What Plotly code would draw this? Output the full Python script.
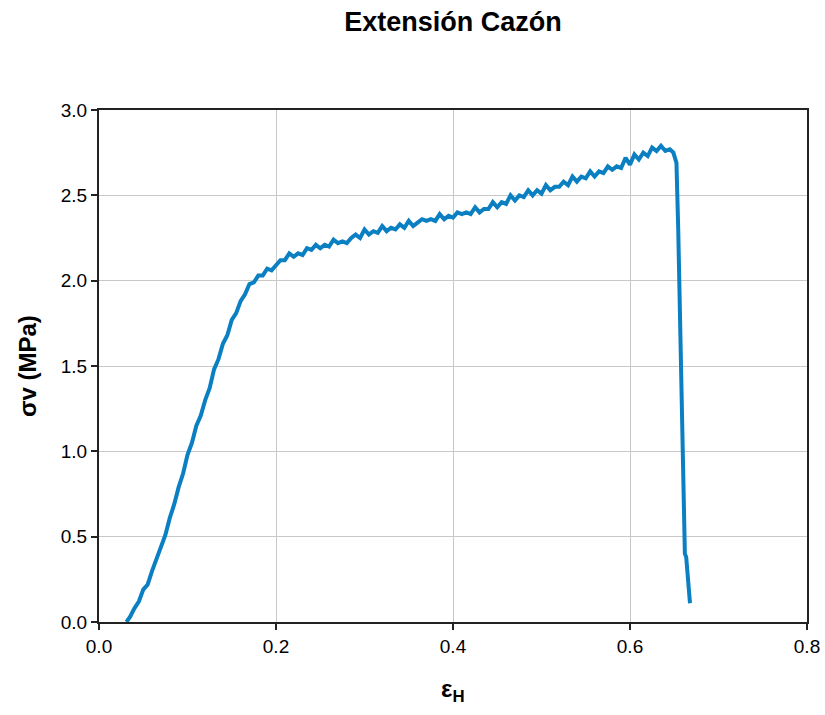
import plotly.graph_objects as go

# Rising (elastic) portion
x_rise = [0.031, 0.035, 0.040, 0.045, 0.050, 0.055, 0.060, 0.065, 0.070, 0.075,
          0.080, 0.085, 0.090, 0.095, 0.100, 0.105, 0.110, 0.115, 0.120, 0.125,
          0.130, 0.135, 0.140, 0.145, 0.150, 0.155, 0.160, 0.165, 0.170, 0.175,
          0.180, 0.185, 0.190, 0.195]
y_rise = [0.00, 0.03, 0.08, 0.12, 0.19, 0.22, 0.30, 0.37, 0.45, 0.51,
          0.61, 0.69, 0.79, 0.87, 0.98, 1.05, 1.15, 1.21, 1.30, 1.37,
          1.48, 1.54, 1.63, 1.68, 1.77, 1.81, 1.88, 1.92, 1.98, 1.99,
          2.03, 2.03, 2.07, 2.06]

# Plateau (noisy hardening) portion
x_plat = [0.200, 0.205, 0.210, 0.215, 0.220, 0.225, 0.230, 0.235, 0.240, 0.245,
          0.250, 0.255, 0.260, 0.265, 0.270, 0.275, 0.280, 0.285, 0.290, 0.295,
          0.300, 0.305, 0.310, 0.315, 0.320, 0.325, 0.330, 0.335, 0.340, 0.345,
          0.350, 0.355, 0.360, 0.365, 0.370, 0.375, 0.380, 0.385, 0.390, 0.395,
          0.400, 0.405, 0.410, 0.415, 0.420, 0.425, 0.430, 0.435, 0.440, 0.445,
          0.450, 0.455, 0.460, 0.465, 0.470, 0.475, 0.480, 0.485, 0.490, 0.495,
          0.500, 0.505, 0.510, 0.515, 0.520, 0.525, 0.530, 0.535, 0.540, 0.545,
          0.550, 0.555, 0.560, 0.565, 0.570, 0.575, 0.580, 0.585, 0.590, 0.595,
          0.600, 0.605, 0.610, 0.615, 0.620, 0.625, 0.630, 0.635, 0.640, 0.645]
y_plat = [2.09, 2.12, 2.12, 2.16, 2.14, 2.16, 2.15, 2.19, 2.18, 2.21,
          2.19, 2.21, 2.20, 2.24, 2.22, 2.23, 2.22, 2.25, 2.27, 2.25,
          2.30, 2.27, 2.29, 2.28, 2.32, 2.29, 2.31, 2.30, 2.33, 2.31,
          2.35, 2.32, 2.34, 2.36, 2.35, 2.36, 2.35, 2.39, 2.36, 2.38,
          2.37, 2.40, 2.39, 2.40, 2.39, 2.43, 2.40, 2.42, 2.42, 2.46,
          2.43, 2.46, 2.45, 2.50, 2.47, 2.50, 2.49, 2.53, 2.50, 2.53,
          2.51, 2.56, 2.53, 2.55, 2.55, 2.58, 2.56, 2.61, 2.58, 2.61,
          2.60, 2.64, 2.61, 2.64, 2.63, 2.67, 2.65, 2.67, 2.66, 2.72,
          2.68, 2.74, 2.71, 2.75, 2.73, 2.78, 2.76, 2.79, 2.76, 2.77]

# Failure (drop) portion
x_drop = [0.649, 0.6525, 0.6545, 0.6577, 0.660, 0.662, 0.6635, 0.6678]
y_drop = [2.75, 2.69, 2.30, 1.52, 0.93, 0.40, 0.38, 0.11]

x_all = x_rise + x_plat + x_drop
y_all = y_rise + y_plat + y_drop

x_ticks = [0.0, 0.2, 0.4, 0.6, 0.8]
y_ticks = [0.0, 0.5, 1.0, 1.5, 2.0, 2.5, 3.0]

FONT = "Arial, Liberation Sans, sans-serif"

fig = go.Figure()
fig.add_trace(go.Scatter(x=x_all, y=y_all, mode="lines",
                         line=dict(color="#0A7FC2", width=4),
                         showlegend=False, hoverinfo="skip"))

fig.update_layout(
    width=825, height=715,
    margin=dict(l=99, r=18, t=110, b=93),
    paper_bgcolor="white", plot_bgcolor="white",
    font=dict(family=FONT, color="black", size=19),
    title=dict(text="<b>Extensión Cazón</b>", x=0.5, xref="paper",
               y=1 - 22 / 715, yref="container", yanchor="middle",
               font=dict(family=FONT, size=27, color="black")),
    xaxis=dict(range=[0, 0.8], tickvals=x_ticks,
               ticktext=[f"{v:.1f}" for v in x_ticks],
               showgrid=True, gridcolor="#C8C8C8", gridwidth=1,
               showline=True, linecolor="#222222", linewidth=2, mirror=True,
               ticks="outside", ticklen=6, tickcolor="#222222", tickwidth=1.5,
               zeroline=False, tickfont=dict(size=19), automargin=False),
    yaxis=dict(range=[0, 3.0], tickvals=y_ticks,
               ticktext=[f"{v:.1f}" for v in y_ticks],
               showgrid=True, gridcolor="#C8C8C8", gridwidth=1,
               showline=True, linecolor="#222222", linewidth=2, mirror=True,
               ticks="outside", ticklen=6, tickcolor="#222222", tickwidth=1.5,
               zeroline=False, tickfont=dict(size=19), automargin=False),
    annotations=[
        dict(text="<b>σv (MPa)</b>", xref="paper", yref="paper",
             x=(27 - 99) / 708, y=0.5, textangle=-90, showarrow=False,
             xanchor="center", yanchor="middle",
             font=dict(family=FONT, size=24, color="black")),
        dict(text="<b>ε<sub>H</sub></b>", xref="paper", yref="paper",
             x=0.5, y=(622 - 690) / 512, showarrow=False,
             xanchor="center", yanchor="middle",
             font=dict(family=FONT, size=24, color="black")),
    ],
)

fig.write_html("out.html")
